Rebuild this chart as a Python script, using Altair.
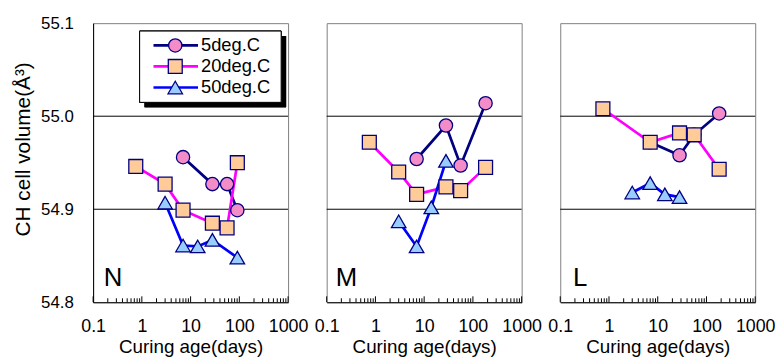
import altair as alt
import pandas as pd

# ---- data ----
panels = ["N", "M", "L"]
series = ["5deg.C", "20deg.C", "50deg.C"]

n5_age = [7, 28, 56, 91]
n5_vol = [54.956, 54.927, 54.927, 54.899]
n20_age = [0.75, 3, 7, 28, 56, 91]
n20_vol = [54.946, 54.927, 54.899, 54.885, 54.880, 54.950]
n50_age = [3, 7, 14, 28, 91]
n50_vol = [54.907, 54.861, 54.860, 54.867, 54.848]

m5_age = [7, 28, 56, 182]
m5_vol = [54.954, 54.990, 54.947, 55.014]
m20_age = [0.75, 3, 7, 28, 56, 182]
m20_vol = [54.972, 54.940, 54.916, 54.924, 54.920, 54.945]
m50_age = [3, 7, 14, 28]
m50_vol = [54.887, 54.860, 54.902, 54.952]

l5_age = [7, 28, 56, 182]
l5_vol = [54.972, 54.958, 54.980, 55.003]
l20_age = [0.75, 7, 28, 56, 182]
l20_vol = [55.008, 54.972, 54.982, 54.980, 54.943]
l50_age = [3, 7, 14, 28]
l50_vol = [54.918, 54.928, 54.916, 54.913]

x_labels = [0.1, 1, 10, 100, 1000]
y_labels = [54.8, 54.9, 55.0, 55.1]
grid_values = [54.9, 55.0]
minor_mult = [2, 3, 4, 5, 6, 7, 8, 9]

# ---- styles ----
line_colors = ["#000080", "#FF00FF", "#0000FF"]
fill_colors = ["#F48CC8", "#FFCC99", "#99CCFF"]
shapes = ["circle", "square", "triangle-up"]
sizes = [180, 215, 230]
NAVY = "#000080"
FONT = "Liberation Sans"
W, H = 197, 282

raw = {
    "N": [(n5_age, n5_vol), (n20_age, n20_vol), (n50_age, n50_vol)],
    "M": [(m5_age, m5_vol), (m20_age, m20_vol), (m50_age, m50_vol)],
    "L": [(l5_age, l5_vol), (l20_age, l20_vol), (l50_age, l50_vol)],
}
rows = []
for p in panels:
    for s, (ages, vols) in zip(series, raw[p]):
        for a, v in zip(ages, vols):
            rows.append({"panel": p, "series": s, "age": a, "vol": v})
df = pd.DataFrame(rows)

major_ticks = pd.DataFrame({"t": x_labels})
minor_ticks = pd.DataFrame({"t": [m * d for d in x_labels[:-1] for m in minor_mult]})
grid_df = pd.DataFrame({"g": grid_values})
legend_df = pd.DataFrame({"series": series})

color_scale = alt.Scale(domain=series, range=line_colors)
fill_scale = alt.Scale(domain=series, range=fill_colors)
shape_scale = alt.Scale(domain=series, range=shapes)
size_scale = alt.Scale(domain=series, range=sizes)
x_scale = alt.Scale(type="log", domain=[0.1, 1000], nice=False)
y_scale = alt.Scale(domain=[54.8, 55.1], nice=False, zero=False)


def panel(name, show_y, with_legend):
    d = df[df.panel == name]
    x_axis = alt.Axis(
        values=x_labels, format="~g", title="Curing age(days)", grid=False,
        ticks=False, tickSize=0, labelFontSize=18, labelPadding=16,
        labelFlush=False, labelOverlap=False, labelColor="black",
        domainColor="black", domainWidth=1, titleFontSize=19,
        titleFontWeight="normal", titleColor="black", titleY=36,
    )
    if show_y:
        y_axis = alt.Axis(
            values=y_labels, format=".1f", title="CH cell volume(Å³)", grid=False,
            ticks=False, tickSize=0, labelFontSize=17, labelPadding=20,
            labelColor="black", domainColor="black", domainWidth=1,
            titleFontSize=21, titleFontWeight="normal", titleColor="black",
            titleX=-70, titleY=127, titleBaseline="middle", titleAngle=270,
        )
    else:
        y_axis = None

    X = alt.X("age:Q", scale=x_scale, axis=x_axis)
    Y = alt.Y("vol:Q", scale=y_scale, axis=y_axis)

    grid = alt.Chart(grid_df).mark_rule(color="black", strokeWidth=1).encode(
        y=alt.Y("g:Q", scale=y_scale, axis=y_axis)
    )
    minor = alt.Chart(minor_ticks).mark_rule(color="black", strokeWidth=1).encode(
        x=alt.X("t:Q", scale=x_scale, axis=x_axis), y=alt.value(H), y2=alt.value(H - 4)
    )
    major = alt.Chart(major_ticks).mark_rule(color="black", strokeWidth=1).encode(
        x=alt.X("t:Q", scale=x_scale, axis=x_axis), y=alt.value(H), y2=alt.value(H - 6)
    )
    lines = alt.Chart(d).mark_line(strokeWidth=2.75).encode(
        x=X, y=Y,
        color=alt.Color("series:N", scale=color_scale, legend=None),
        detail="series:N",
    )
    points = alt.Chart(d).mark_point(filled=True, opacity=1, strokeWidth=1.3).encode(
        x=X, y=Y,
        shape=alt.Shape("series:N", scale=shape_scale, legend=None),
        fill=alt.Fill("series:N", scale=fill_scale, legend=None),
        size=alt.Size("series:N", scale=size_scale, legend=None),
        stroke=alt.value(NAVY),
    )
    label = alt.Chart(pd.DataFrame({"p": [name]})).mark_text(
        fontSize=26, align="center", baseline="alphabetic", color="black"
    ).encode(text="p:N", x=alt.value(20), y=alt.value(H - 16))

    main = alt.layer(grid, minor, major, lines, points, label)

    if not with_legend:
        return main.properties(width=W, height=H)

    ly = alt.Y("series:N", scale=alt.Scale(type="point", domain=series, range=[22.5, 65], padding=0), axis=None)
    shadow = alt.Chart(legend_df).mark_rect(color="black").encode(
        x=alt.value(52), x2=alt.value(195), y=alt.value(13), y2=alt.value(85)
    )
    box = alt.Chart(legend_df).mark_rect(fill="white", stroke="black", strokeWidth=1).encode(
        x=alt.value(47), x2=alt.value(190), y=alt.value(8), y2=alt.value(80)
    )
    l_lines = alt.Chart(legend_df).mark_rule(strokeWidth=2.75).encode(
        x=alt.value(61), x2=alt.value(106), y=ly,
        color=alt.Color("series:N", scale=color_scale, legend=None),
    )
    l_points = alt.Chart(legend_df).mark_point(filled=True, opacity=1, strokeWidth=1.3).encode(
        x=alt.value(83), y=ly,
        shape=alt.Shape("series:N", scale=shape_scale, legend=None),
        fill=alt.Fill("series:N", scale=fill_scale, legend=None),
        size=alt.Size("series:N", scale=size_scale, legend=None),
        stroke=alt.value(NAVY),
    )
    l_text = alt.Chart(legend_df).mark_text(
        fontSize=18.5, align="left", baseline="middle", color="black"
    ).encode(x=alt.value(109), y=ly, text="series:N")
    leg = alt.layer(shadow, box, l_lines, l_points, l_text)
    return alt.layer(main, leg).resolve_scale(y="independent").properties(width=W, height=H)


chart = alt.hconcat(
    panel("N", True, True),
    panel("M", False, False),
    panel("L", False, False),
    spacing=39,
    bounds="flush",
).properties(
    padding={"left": 4, "top": 3.5, "right": 0, "bottom": 0}
).configure(font=FONT).configure_view(stroke="#808080", strokeWidth=1)

chart.save("out.html", embed_options={"renderer": "svg", "actions": False})
